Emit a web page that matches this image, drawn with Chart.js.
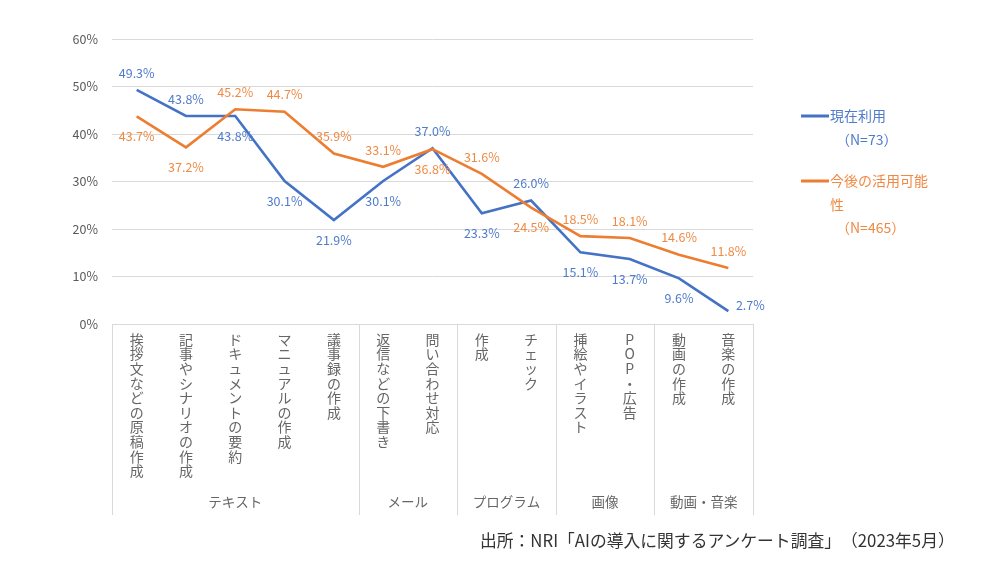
<!DOCTYPE html>
<html><head><meta charset="utf-8">
<script src="https://cdn.jsdelivr.net/npm/chart.js@4.4.0/dist/chart.umd.min.js"></script>
<style>
html,body{margin:0;padding:0;background:#fff;}
#wrap{position:relative;width:1000px;height:580px;}
#src{position:absolute;left:480px;top:528px;font-family:"Noto Sans CJK JP","Noto Sans",sans-serif;font-size:16.8px;color:#333;white-space:nowrap;text-spacing-trim:space-all;}
</style></head>
<body>
<div id="wrap"><canvas id="c" width="1000" height="580"></canvas>
<div id="src">出所：NRI「AIの導入に関するアンケート調査」（2023年5月）</div></div>
<script>
const categories = ["挨拶文などの原稿作成","記事やシナリオの作成","ドキュメントの要約","マニュアルの作成","議事録の作成","返信などの下書き","問い合わせ対応","作成","チェック","挿絵やイラスト","POP・広告","動画の作成","音楽の作成"];
const groups = ["テキスト","メール","プログラム","画像","動画・音楽"];
const groupSizes = [5,2,2,2,2];
const currentUse = [49.3,43.8,43.8,30.1,21.9,30.1,37.0,23.3,26.0,15.1,13.7,9.6,2.7];
const futureUse = [43.7,37.2,45.2,44.7,35.9,33.1,36.8,31.6,24.5,18.5,18.1,14.6,11.8];
const seriesNames = ["現在利用","今後の活用可能性"];
const legendLines = [["現在利用","（N=73）"],["今後の活用可能","性","（N=465）"]];
const yTicks = [0,10,20,30,40,50,60];
// label placement (above / below / right)
const currentPos = ["a","a","b","b","b","b","a","b","a","b","b","b","r"];
const futurePos  = ["b","b","a","a","a","a","b","a","b","a","a","a","a"];

const BLUE = "#4472C4", ORANGE = "#ED7D31";
const FONT = '"Noto Sans CJK JP","Noto Sans",sans-serif';

const dataLabels = {
  id:"dataLabels",
  afterDatasetsDraw(chart){
    const ctx = chart.ctx;
    const posArr = [currentPos, futurePos];
    const colors = ["#4F7BCB","#EF8A45"];
    chart.data.datasets.forEach((ds,i)=>{
      const meta = chart.getDatasetMeta(i);
      ctx.save();
      ctx.font = "12.5px " + FONT;
      ctx.fillStyle = colors[i];
      ctx.textAlign = "center";
      ctx.textBaseline = "middle";
      meta.data.forEach((pt,j)=>{
        const p = posArr[i][j];
        let x = pt.x, y = pt.y;
        if (p==="a") y -= 17;
        else if (p==="b") y += 20;
        else { x += 22; y -= 6; }
        ctx.fillText(ds.data[j].toFixed(1)+"%", x, y);
      });
      ctx.restore();
    });
  }
};

const groupAxis = {
  id:"groupAxis",
  afterDraw(chart){
    const ctx = chart.ctx, xs = chart.scales.x, area = chart.chartArea;
    const half = (xs.getPixelForValue(1)-xs.getPixelForValue(0))/2;
    ctx.save();
    ctx.strokeStyle = "#D9D9D9"; ctx.lineWidth = 1;
    let idx = 0;
    const bounds = [xs.getPixelForValue(0)-half];
    groupSizes.forEach(n=>{ idx += n; bounds.push(xs.getPixelForValue(idx-1)+half); });
    bounds.forEach(b=>{
      ctx.beginPath(); ctx.moveTo(Math.round(b)+0.5, area.bottom); ctx.lineTo(Math.round(b)+0.5, 515); ctx.stroke();
    });
    ctx.font = "13.5px " + FONT; ctx.fillStyle = "#666";
    ctx.textAlign = "center"; ctx.textBaseline = "middle";
    groups.forEach((g,k)=>{ ctx.fillText(g,(bounds[k]+bounds[k+1])/2, 502); });
    // legend
    const lineColors = [BLUE, ORANGE];
    const ys = [116, 181];
    ctx.textAlign = "left";
    legendLines.forEach((lines,k)=>{
      ctx.strokeStyle = lineColors[k]; ctx.lineWidth = 3;
      ctx.beginPath(); ctx.moveTo(801, ys[k]); ctx.lineTo(829, ys[k]); ctx.stroke();
      ctx.fillStyle = k===0 ? "#4F7BCB" : "#EF8A45";
      ctx.font = "14px " + FONT;
      lines.forEach((t,m)=>{ ctx.fillText(t, t.startsWith("（")?836:830, ys[k] + m*23.5); });
    });
    ctx.restore();
  }
};

new Chart(document.getElementById("c"), {
  type:"line",
  data:{
    labels: categories.map(s=>Array.from(s)),
    datasets:[
      {label:seriesNames[0], data:currentUse, borderColor:BLUE, backgroundColor:BLUE, borderWidth:2.6, pointRadius:0, tension:0, order:1},
      {label:seriesNames[1], data:futureUse, borderColor:ORANGE, backgroundColor:ORANGE, borderWidth:2.6, pointRadius:0, tension:0, order:0}
    ]
  },
  options:{
    responsive:false, animation:false, devicePixelRatio:1,
    layout:{padding:{top:39,right:247,left:0,bottom:0}},
    plugins:{legend:{display:false}, tooltip:{enabled:false}},
    scales:{
      x:{
        offset:true,
        grid:{display:false,drawTicks:false},
        border:{display:true,color:"#D9D9D9"},
        ticks:{autoSkip:false,maxRotation:0,minRotation:0,color:"#666",padding:8,
          font:{family:FONT,size:14,lineHeight:1.045}},
        afterFit(s){ s.height = 256; }
      },
      y:{
        min:0,max:60,
        afterBuildTicks(s){ s.ticks = yTicks.map(v=>({value:v})); },
        grid:{color:"#D9D9D9",drawTicks:false},
        border:{display:false},
        ticks:{color:"#595959",padding:14,font:{family:FONT,size:12.5},callback:v=>v+"%"},
        afterFit(s){ s.width = 112; }
      }
    }
  },
  plugins:[dataLabels, groupAxis]
});
</script>
</body></html>
